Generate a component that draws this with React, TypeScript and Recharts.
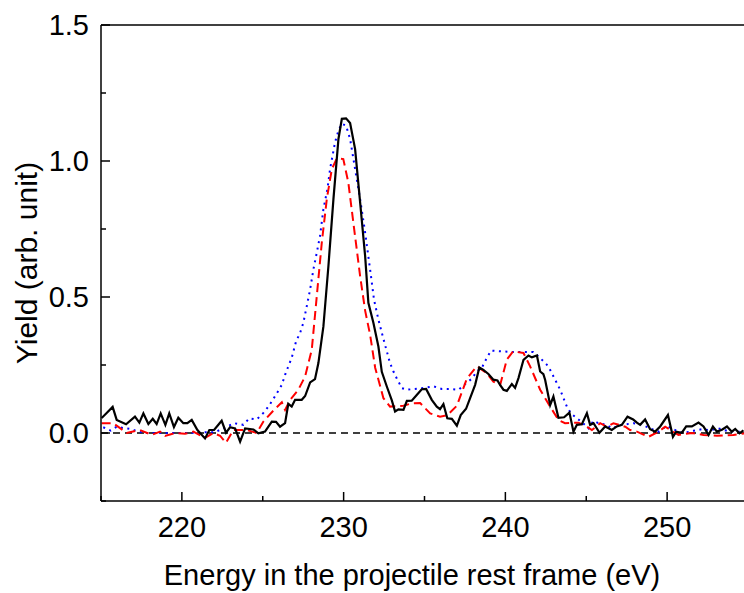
import { ComposedChart, Line, ReferenceLine, XAxis, YAxis } from 'recharts';

// experimental yield (solid black)
const blackE = [
  215.04, 215.72, 215.97, 216.55, 217.1, 217.37, 217.62, 217.93, 218.2, 218.44, 218.69, 218.98, 219.22, 219.51,
  219.78, 220.09, 220.34, 220.61, 220.96, 221.43, 221.7, 221.99, 222.46, 222.73, 222.98, 223.29, 223.6, 223.91,
  224.42, 224.73, 225.14, 225.56, 225.82, 226.07, 226.38, 226.58, 226.79, 227.0, 227.41, 227.62, 227.93, 228.23,
  228.44, 228.75, 229.06, 229.37, 229.68, 229.89, 230.15, 230.4, 230.71, 231.02, 231.33, 231.53, 231.84, 232.15,
  232.36, 232.67, 232.98, 233.18, 233.39, 233.7, 233.91, 234.21, 234.52, 234.83, 235.1, 235.45, 235.76, 235.96,
  236.17, 236.41, 236.69, 237.0, 237.24, 237.57, 237.82, 238.13, 238.39, 238.64, 238.95, 239.26, 239.51, 239.67,
  239.88, 240.09, 240.4, 240.6, 240.81, 241.12, 241.43, 241.64, 241.95, 242.15, 242.35, 242.46, 242.77, 242.97,
  243.28, 243.63, 243.96, 244.21, 244.42, 244.73, 245.04, 245.24, 245.45, 245.82, 246.17, 246.58, 246.89, 247.2,
  247.55, 247.9, 248.13, 248.33, 248.64, 248.95, 249.26, 249.57, 250.05, 250.36, 250.56, 250.91, 251.18, 251.53,
  251.94, 252.25, 252.56, 252.83, 253.08, 253.39, 253.7, 254.0, 254.21, 254.47, 254.72
];
const blackY = [
  0.055, 0.096, 0.048, 0.032, 0.06, 0.038, 0.072, 0.033, 0.052, 0.033, 0.072, 0.03, 0.072, 0.022,
  0.056, 0.036, 0.036, 0.048, 0.011, -0.02, 0.011, 0.011, 0.045, 0.001, 0.021, 0.017, -0.032, 0.017,
  0.013, -0.001, 0.005, 0.042, 0.041, 0.023, 0.036, 0.107, 0.097, 0.122, 0.122, 0.136, 0.186, 0.198,
  0.257, 0.392, 0.614, 0.86, 1.081, 1.155, 1.157, 1.14, 1.044, 0.848, 0.65, 0.479, 0.405, 0.318,
  0.225, 0.171, 0.12, 0.079, 0.087, 0.085, 0.118, 0.119, 0.14, 0.161, 0.162, 0.122, 0.097, 0.088,
  0.106, 0.054, 0.052, 0.027, 0.066, 0.089, 0.128, 0.177, 0.241, 0.232, 0.217, 0.196, 0.193, 0.177,
  0.159, 0.155, 0.18, 0.166, 0.202, 0.269, 0.285, 0.278, 0.285, 0.226, 0.216, 0.195, 0.103, 0.134,
  0.056, 0.058, 0.075, 0.005, 0.03, 0.032, 0.073, 0.03, 0.036, 0.001, 0.024, 0.011, 0.024, 0.03,
  0.06, 0.05, 0.038, 0.03, 0.05, 0.014, 0.005, 0.024, 0.066, -0.014, 0.005, 0.001, 0.024, 0.024,
  0.038, 0.024, -0.007, 0.024, 0.005, 0.012, 0.024, 0.005, 0.015, -0.001, 0.01
];

// calculation (red dashed)
const redE = [
  215.04, 215.76, 216.59, 217.41, 218.14, 218.65, 218.96, 219.58, 220.19, 220.71, 221.43, 221.94, 222.36, 222.73,
  223.18, 224.01, 224.63, 225.04, 225.62, 226.18, 226.38, 226.69, 227.2, 227.62, 228.03, 228.34, 228.65, 228.96,
  229.27, 229.58, 229.98, 230.29, 230.6, 231.02, 231.33, 231.64, 231.95, 232.46, 232.87, 233.7, 234.21, 234.73,
  235.35, 235.96, 236.42, 237.0, 237.62, 238.23, 238.85, 239.26, 239.68, 240.09, 240.48, 241.12, 241.53, 242.15,
  242.77, 243.28, 243.69, 244.52, 245.04, 245.35, 245.86, 246.27, 246.68, 247.41, 247.71, 248.13, 248.85, 249.47,
  249.88, 250.7, 251.53, 252.25, 253.08, 254.1, 255.0
];
const redY = [
  0.036, 0.036, 0.0, 0.011, -0.007, 0.005, -0.011, 0.0, -0.003, 0.005, -0.018, 0.0, -0.01, -0.036,
  0.011, 0.011, 0.0, 0.042, 0.08, 0.113, 0.085, 0.122, 0.159, 0.208, 0.306, 0.503, 0.7, 0.86,
  0.97, 1.01, 1.007, 0.921, 0.774, 0.577, 0.45, 0.36, 0.24, 0.128, 0.097, 0.1, 0.109, 0.11,
  0.072, 0.06, 0.066, 0.1, 0.2, 0.245, 0.22, 0.189, 0.177, 0.27, 0.3, 0.294, 0.245, 0.159,
  0.097, 0.048, 0.036, 0.038, 0.023, 0.011, 0.036, 0.023, 0.036, 0.023, 0.011, 0.005, -0.014, 0.005,
  0.023, -0.007, 0.0, -0.007, -0.01, -0.007, 0.0
];

// calculation (blue dotted)
const blueE = [
  215.14, 215.6, 215.97, 216.42, 216.9, 217.29, 217.72, 218.65, 219.58, 220.5, 221.43, 222.05, 222.56, 223.23,
  223.8, 224.17, 224.63, 225.04, 225.35, 225.62, 225.87, 226.18, 226.38, 226.58, 226.79, 227.06, 227.31, 227.51,
  227.72, 227.93, 228.13, 228.34, 228.54, 228.75, 229.0, 229.16, 229.47, 229.68, 229.89, 230.15, 230.4, 230.71,
  231.02, 231.33, 231.64, 231.88, 232.15, 232.42, 232.67, 232.87, 233.08, 233.29, 233.6, 233.91, 234.83, 235.59,
  236.07, 236.58, 237.1, 237.51, 237.93, 238.23, 238.54, 238.85, 239.12, 240.29, 241.33, 241.73, 242.15, 242.66,
  242.87, 243.39, 243.8, 244.05, 244.42, 244.73, 245.14, 245.45, 245.75, 246.27, 246.58, 247.2, 247.92, 248.33,
  248.95, 249.47, 249.98, 250.7, 251.01, 251.63, 252.15, 252.66, 253.18, 253.7, 254.21, 254.7
];
const blueY = [
  0.021, 0.009, 0.023, 0.018, 0.014, 0.005, 0.0, 0.0, 0.0, 0.0, 0.003, 0.003, 0.017, 0.036,
  0.03, 0.054, 0.05, 0.074, 0.097, 0.122, 0.146, 0.177, 0.214, 0.245, 0.276, 0.337, 0.368, 0.405,
  0.466, 0.528, 0.601, 0.663, 0.724, 0.823, 0.897, 0.97, 1.069, 1.112, 1.137, 1.13, 1.081, 0.97,
  0.86, 0.737, 0.6, 0.49, 0.417, 0.355, 0.3, 0.257, 0.226, 0.2, 0.165, 0.159, 0.165, 0.171,
  0.162, 0.162, 0.159, 0.18, 0.2, 0.226, 0.239, 0.276, 0.303, 0.298, 0.298, 0.298, 0.276, 0.245,
  0.22, 0.159, 0.097, 0.072, 0.054, 0.04, 0.017, 0.045, 0.036, 0.03, 0.017, 0.03, 0.036, 0.033,
  0.017, 0.005, 0.026, 0.005, 0.0, 0.008, 0.014, 0.01, 0.017, 0.008, 0.005, 0.005
];

const xTicks = [215, 220, 225, 230, 235, 240, 245, 250, 255];
const xLabels = [220, 230, 240, 250];
const yTicks = [-0.25, 0, 0.25, 0.5, 0.75, 1.0, 1.25, 1.5];
const yLabels = [0, 0.5, 1.0, 1.5];

const zip = (xs: number[], ys: number[]) => xs.map((x, i) => ({ x, y: ys[i] }));
const black = zip(blackE, blackY);
const red = zip(redE, redY);
const blue = zip(blueE, blueY);

const FONT = '"Liberation Sans", Arial, sans-serif';
const MAJOR = 9;
const MINOR = 5;

const BottomTick = ({ x, y, payload }: any) => {
  const v = payload.value;
  const major = xLabels.includes(v);
  return (
    <g>
      <line x1={x} x2={x} y1={y} y2={y - (major ? MAJOR : MINOR)} stroke="#000" strokeWidth={1.5} />
      {major && (
        <text x={x} y={y + 36} textAnchor="middle" fontSize={29} fontFamily={FONT} fill="#000">
          {v}
        </text>
      )}
    </g>
  );
};

const TopTick = ({ x, y, payload }: any) => {
  const major = xLabels.includes(payload.value);
  return <line x1={x} x2={x} y1={y} y2={y + (major ? MAJOR : MINOR)} stroke="#000" strokeWidth={1.5} />;
};

const LeftTick = ({ x, y, payload }: any) => {
  const v = payload.value;
  const major = yLabels.includes(v);
  return (
    <g>
      <line x1={x} x2={x + (major ? MAJOR : MINOR)} y1={y} y2={y} stroke="#000" strokeWidth={1.5} />
      {major && (
        <text x={x - 12} y={y + 10} textAnchor="end" fontSize={29} fontFamily={FONT} fill="#000">
          {v.toFixed(1)}
        </text>
      )}
    </g>
  );
};

const RightTick = ({ x, y, payload }: any) => {
  const major = yLabels.includes(payload.value);
  return <line x1={x} x2={x - (major ? MAJOR : MINOR)} y1={y} y2={y} stroke="#000" strokeWidth={1.5} />;
};

export default function App() {
  return (
    <div style={{ position: 'fixed', left: 0, top: 0, width: 744, height: 593, overflow: 'hidden', background: '#fff' }}>
      <ComposedChart width={760} height={593} margin={{ top: 0, right: 0, bottom: 0, left: 0 }}>
        <XAxis
          type="number"
          dataKey="x"
          domain={[215, 255]}
          ticks={xTicks}
          allowDataOverflow
          height={92}
          tickSize={0}
          tickMargin={0}
          tickLine={false}
          axisLine={{ stroke: '#000', strokeWidth: 1.5 }}
          tick={BottomTick}
          interval={0}
        />
        <XAxis
          xAxisId="top"
          orientation="top"
          type="number"
          domain={[215, 255]}
          ticks={xTicks}
          height={25}
          tickSize={0}
          tickMargin={0}
          tickLine={false}
          axisLine={{ stroke: '#000', strokeWidth: 1.5 }}
          tick={TopTick}
          interval={0}
        />
        <YAxis
          type="number"
          domain={[-0.25, 1.5]}
          ticks={yTicks}
          allowDataOverflow
          width={101}
          tickSize={0}
          tickMargin={0}
          tickLine={false}
          axisLine={{ stroke: '#000', strokeWidth: 1.5 }}
          tick={LeftTick}
          interval={0}
        />
        <YAxis
          yAxisId="right"
          orientation="right"
          type="number"
          domain={[-0.25, 1.5]}
          ticks={yTicks}
          width={12}
          tickSize={0}
          tickMargin={0}
          tickLine={false}
          axisLine={{ stroke: '#000', strokeWidth: 1.5 }}
          tick={RightTick}
          interval={0}
        />
        <ReferenceLine y={0} stroke="#000" strokeWidth={1.5} strokeDasharray="7 5" />
        <Line data={blue} dataKey="y" stroke="#0000ff" strokeWidth={2} strokeDasharray="2 4.5" dot={false} isAnimationActive={false} />
        <Line data={red} dataKey="y" stroke="#ff0000" strokeWidth={2} strokeDasharray="9 5" dot={false} isAnimationActive={false} />
        <Line data={black} dataKey="y" stroke="#000" strokeWidth={2.2} dot={false} isAnimationActive={false} />
      </ComposedChart>
      <div
        style={{
          position: 'absolute',
          left: 27,
          top: 263,
          transform: 'translate(-50%, -50%) rotate(-90deg)',
          whiteSpace: 'nowrap',
          fontFamily: FONT,
          fontSize: 30,
          color: '#000'
        }}
      >
        Yield (arb. unit)
      </div>
      <div
        style={{
          position: 'absolute',
          left: 412,
          top: 575,
          transform: 'translate(-50%, -50%)',
          whiteSpace: 'nowrap',
          fontFamily: FONT,
          fontSize: 29,
          color: '#000'
        }}
      >
        Energy in the projectile rest frame (eV)
      </div>
    </div>
  );
}
